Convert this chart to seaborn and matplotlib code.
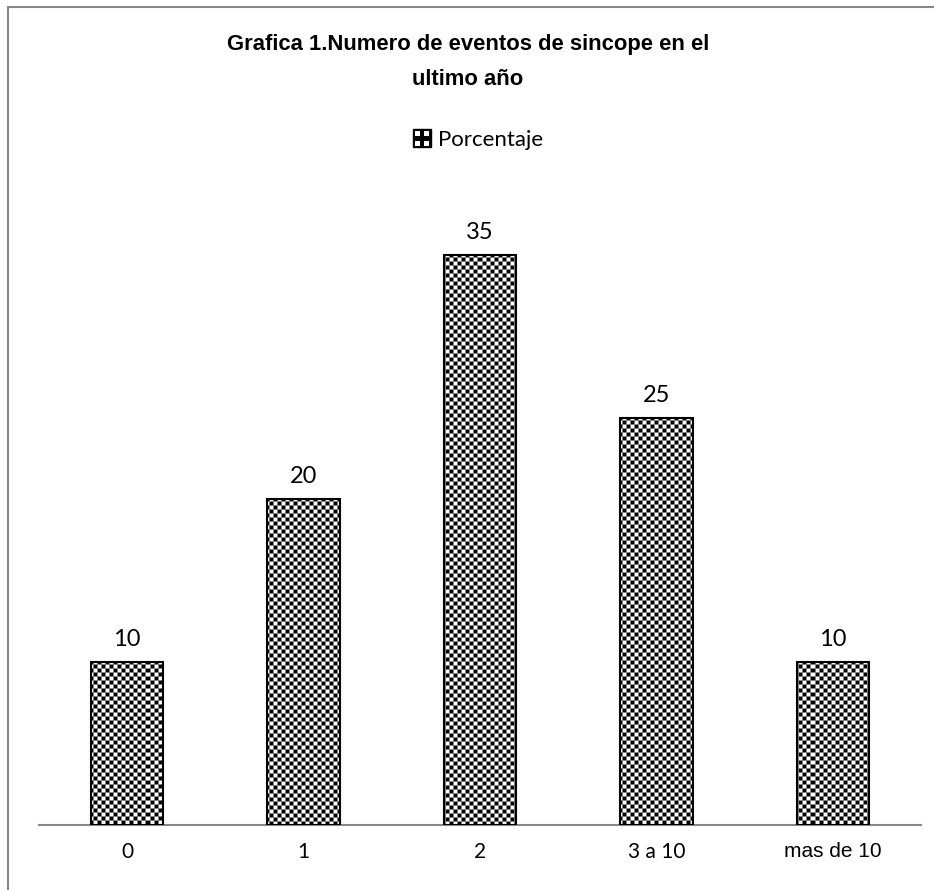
import numpy as np
import pandas as pd
import matplotlib
matplotlib.use("Agg")
import matplotlib.pyplot as plt
import seaborn as sns
from matplotlib.lines import Line2D
from matplotlib.patches import Rectangle
from matplotlib.legend_handler import HandlerBase

categories = ["0", "1", "2", "3 a 10", "mas de 10"]
values = [10, 20, 35, 25, 10]
series_name = "Porcentaje"
title_text = "Grafica 1.Numero de eventos de sincope en el\nultimo año"

df = pd.DataFrame({"evento": categories, series_name: values})

sns.set_theme(style="white")
plt.rcParams["font.family"] = ["Lato", "DejaVu Sans"]
plt.rcParams["text.color"] = "black"

W, H, DPI = 934, 890, 100
fig = plt.figure(figsize=(W / DPI, H / DPI), dpi=DPI)
fig.patch.set_facecolor("white")
ax = fig.add_axes([39 / W, 65 / H, 882 / W, 651 / H])

sns.barplot(data=df, x="evento", y=series_name, color="white",
            edgecolor="black", linewidth=1.5, width=0.41, ax=ax,
            zorder=3)
ax.set_xlim(-0.5, len(categories) - 0.5)
ax.set_ylim(0, 40)


def checker(h, w):
    r = np.arange(h)[:, None]
    c = np.arange(w)[None, :]
    cell = ((r // 4) % 2) == ((c // 4) % 2)
    img = np.where(cell, 0.0, 1.0)
    edge = (r % 4 == 0) | (c % 4 == 0)
    img = np.where(edge, 0.5, img)
    return img


# checkered fill, clipped to each bar, laid on whole device pixels
inv = ax.transData.inverted()
for patch in ax.patches:
    patch.set_facecolor("none")
    x0, y0 = patch.get_x(), patch.get_y()
    x1, y1 = x0 + patch.get_width(), y0 + patch.get_height()
    (px0, py0), (px1, py1) = ax.transData.transform([(x0, y0), (x1, y1)])
    qx0, qy0 = np.floor(px0) - 2, np.floor(py0) - 2
    qx1, qy1 = np.ceil(px1) + 2, np.ceil(py1) + 2
    (ex0, ey0), (ex1, ey1) = inv.transform([(qx0, qy0), (qx1, qy1)])
    im = ax.imshow(checker(int(qy1 - qy0), int(qx1 - qx0)), cmap="gray",
                   vmin=0, vmax=1, extent=(ex0, ex1, ey0, ey1), origin="upper",
                   interpolation="nearest", aspect="auto", zorder=2)
    im.set_clip_path(patch)
ax.set_xlim(-0.5, len(categories) - 0.5)
ax.set_ylim(0, 40)

ax.bar_label(ax.containers[0], labels=[str(v) for v in values],
             padding=9, fontsize=17, color="black", family=["Lato", "DejaVu Sans"])

for s in ["left", "right", "top"]:
    ax.spines[s].set_visible(False)
ax.spines["bottom"].set_color("#888888")
ax.spines["bottom"].set_linewidth(1.5)
ax.set_yticks([])
ax.set_xlabel("")
ax.set_ylabel("")
ax.tick_params(axis="x", length=0, pad=12, labelsize=15, colors="black")
for lbl in ax.get_xticklabels():
    if lbl.get_text() == "mas de 10":
        lbl.set_family(["Liberation Sans", "DejaVu Sans"])
        lbl.set_fontsize(15)


class CheckerHandler(HandlerBase):
    def create_artists(self, legend, orig_handle, xdescent, ydescent,
                       width, height, fontsize, trans):
        s = min(width, height) * 1.05
        x0 = xdescent + (width - s) / 2
        y0 = -ydescent + (height - s) / 2
        arts = [Rectangle((x0, y0), s, s, facecolor="black",
                          edgecolor="black", transform=trans)]
        n = 3
        inner = s * 0.8
        off = (s - inner) / 2
        cs = inner / n
        for i in range(n):
            for j in range(n):
                if (i + j) % 2 == 0 and not (i == 1 and j == 1):
                    arts.append(Rectangle((x0 + off + i * cs, y0 + off + j * cs),
                                          cs, cs, facecolor="white",
                                          edgecolor="none", transform=trans))
        return arts


handle = Rectangle((0, 0), 1, 1)
fig.legend([handle], [series_name], handler_map={Rectangle: CheckerHandler()},
           loc="center", bbox_to_anchor=(478 / W, 1 - 140 / H),
           frameon=False, fontsize=16, handlelength=0.8, handleheight=0.8,
           handletextpad=0.3, labelcolor="black")

fig.text(468 / W, 1 - 62 / H, title_text, ha="center", va="center",
         fontsize=15.8, fontweight="bold", linespacing=1.9, color="black",
         family=["Liberation Sans", "DejaVu Sans"])

# outer chart frame (left and top edges)
fig.add_artist(Line2D([8 / W, 8 / W], [0, 1 - 7 / H], transform=fig.transFigure,
                      color="#888888", linewidth=1.5))
fig.add_artist(Line2D([8 / W, 1], [1 - 7 / H, 1 - 7 / H], transform=fig.transFigure,
                      color="#888888", linewidth=1.5))

fig.savefig("out.png", dpi=DPI, facecolor="white")
